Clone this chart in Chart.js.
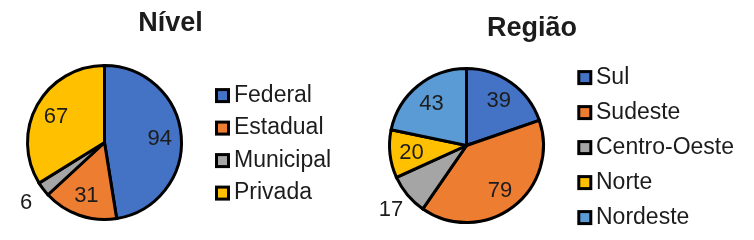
<!DOCTYPE html>
<html><head><meta charset="utf-8">
<script src="https://cdn.jsdelivr.net/npm/chart.js@4/dist/chart.umd.min.js"></script>
<style>
html,body{margin:0;padding:0;background:#fff;width:754px;height:240px;overflow:hidden}
.box{position:absolute;top:0;width:377px;height:240px}
canvas{display:block}
</style></head><body>
<div class="box" style="left:0"><canvas id="c1" width="377" height="240"></canvas></div>
<div class="box" style="left:377px"><canvas id="c2" width="377" height="240"></canvas></div>
<script>
const nivelTitle = 'Nível';
const nivelLabels = ['Federal', 'Estadual', 'Municipal', 'Privada'];
const nivelValues = [94, 31, 6, 67];
const nivelColors = ['#4472C4', '#ED7D31', '#A5A5A5', '#FFC000'];

const regiaoTitle = 'Região';
const regiaoLabels = ['Sul', 'Sudeste', 'Centro-Oeste', 'Norte', 'Nordeste'];
const regiaoValues = [39, 79, 17, 20, 43];
const regiaoColors = ['#4472C4', '#ED7D31', '#A5A5A5', '#FFC000', '#5B9BD5'];

const FONT = "'Liberation Sans', Arial, Helvetica, sans-serif";
const TEXT = '#1c1c1c';

const overlay = {
  id: 'overlay',
  afterDatasetsDraw(chart) {
    const o = chart.options.plugins.overlay;
    const ctx = chart.ctx;
    ctx.save();
    // title
    ctx.fillStyle = TEXT;
    ctx.font = 'bold 27px ' + FONT;
    ctx.textAlign = 'center';
    ctx.textBaseline = 'alphabetic';
    ctx.fillText(o.title, o.titleX, o.titleY);
    // data labels
    const meta = chart.getDatasetMeta(0);
    const vals = chart.data.datasets[0].data;
    const total = vals.reduce((a, b) => a + b, 0);
    ctx.font = '22px ' + FONT;
    ctx.textBaseline = 'middle';
    meta.data.forEach((arc, i) => {
      const p = arc.getProps(['x', 'y', 'startAngle', 'endAngle', 'outerRadius'], true);
      const mid = (p.startAngle + p.endAngle) / 2;
      const f = vals[i] / total < 0.1 ? 1.28 : 0.72;
      const x = p.x + Math.cos(mid) * p.outerRadius * f;
      const y = p.y + Math.sin(mid) * p.outerRadius * f;
      ctx.fillText(String(vals[i]), x, y + 1);
    });
    // legend
    ctx.font = '23px ' + FONT;
    ctx.textAlign = 'left';
    ctx.textBaseline = 'alphabetic';
    const colors = chart.data.datasets[0].backgroundColor;
    chart.data.labels.forEach((lab, i) => {
      const cy = o.legY + i * o.legDy;
      const by = cy + 2.3 - 7.5;
      ctx.fillStyle = colors[i];
      ctx.fillRect(o.legX + 1.5, by + 1.5, 12, 12);
      ctx.lineWidth = 3;
      ctx.strokeStyle = '#000';
      ctx.strokeRect(o.legX + 1.5, by + 1.5, 12, 12);
      ctx.fillStyle = TEXT;
      ctx.fillText(lab, o.legTextX, cy + 8.2);
    });
    ctx.restore();
  }
};

function makePie(id, labels, values, colors, pad, ov) {
  return new Chart(document.getElementById(id), {
    type: 'pie',
    data: {
      labels: labels,
      datasets: [{
        data: values,
        backgroundColor: colors,
        borderColor: '#000',
        borderWidth: 3,
        hoverOffset: 0,
        hoverBorderWidth: 3,
        borderJoinStyle: 'miter'
      }]
    },
    options: {
      responsive: false,
      animation: false,
      devicePixelRatio: 1,
      radius: 77,
      layout: { padding: pad },
      events: [],
      plugins: {
        legend: { display: false },
        tooltip: { enabled: false },
        title: { display: false },
        overlay: ov
      }
    },
    plugins: [overlay]
  });
}

makePie('c1', nivelLabels, nivelValues, nivelColors,
  { left: 26, right: 194, top: 64, bottom: 19 },
  { title: nivelTitle, titleX: 170.5, titleY: 31, legX: 215, legTextX: 234, legY: 93.3, legDy: 32.5 });

makePie('c2', regiaoLabels, regiaoValues, regiaoColors,
  { left: 11, right: 209, top: 67, bottom: 16 },
  { title: regiaoTitle, titleX: 155, titleY: 36, legX: 200.3, legTextX: 219, legY: 75.3, legDy: 35 });
</script>
</body></html>
